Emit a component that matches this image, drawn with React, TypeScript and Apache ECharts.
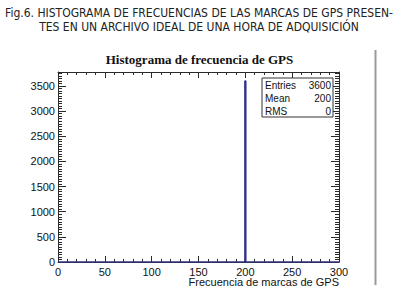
import React, { useEffect, useRef } from "react";
import * as echarts from "echarts";

const captionLines = [
  "Fig.6. HISTOGRAMA DE FRECUENCIAS DE LAS MARCAS DE GPS PRESEN-",
  "TES EN UN ARCHIVO IDEAL DE UNA HORA DE ADQUISICIÓN",
];
const chartTitle = "Histograma de frecuencia de GPS";
const xAxisTitle = "Frecuencia de marcas de GPS";
const gpsBins = [200];
const gpsCounts = [3600];
const binWidth = 1;
const xRange = [0, 300];
const yMax = 3780;

export default function App() {
  const ref = useRef<HTMLDivElement>(null);
  useEffect(() => {
    if (!ref.current) return;
    const chart = echarts.init(ref.current, undefined, { renderer: "svg" });

    // histogram outline from bins
    const outline: number[][] = [[xRange[0], 0]];
    gpsBins.forEach((b, i) => {
      outline.push([b - binWidth / 2, 0]);
      outline.push([b - binWidth / 2, gpsCounts[i]]);
      outline.push([b + binWidth / 2, gpsCounts[i]]);
      outline.push([b + binWidth / 2, 0]);
    });
    outline.push([xRange[1], 0]);

    const entries = gpsCounts.reduce((a, c) => a + c, 0);
    const mean = gpsBins.reduce((a, b, i) => a + b * gpsCounts[i], 0) / entries;
    const rms = Math.sqrt(
      gpsBins.reduce((a, b, i) => a + (b - mean) * (b - mean) * gpsCounts[i], 0) / entries
    );

    const frame = "#2a2a2a";
    const labelFont = { fontFamily: "Liberation Sans, Arial, sans-serif", fontSize: 11, color: "#111" };
    const xBase = { type: "value", min: xRange[0], max: xRange[1], splitLine: { show: false } };
    const yBase = { type: "value", min: 0, max: yMax, splitLine: { show: false } };
    const line = (show: boolean) => ({ show, onZero: false, lineStyle: { color: frame, width: 1 } });
    const tick = (length: number) => ({ show: true, inside: true, length, lineStyle: { color: frame, width: 1 } });

    chart.setOption({
      animation: false,
      title: {
        text: chartTitle,
        left: "center",
        top: 48,
        textStyle: { fontFamily: "Liberation Serif, serif", fontWeight: "bold", fontSize: 13, color: "#111" },
      },
      grid: { left: 58, right: 60, top: 72, bottom: 30 },
      xAxis: [
        { ...xBase, position: "bottom", interval: 50, axisLine: line(true), axisTick: tick(6), axisLabel: { ...labelFont, margin: 4 } },
        { ...xBase, position: "bottom", interval: 10, axisLine: line(false), axisTick: tick(3), axisLabel: { show: false } },
        { ...xBase, position: "top", interval: 50, axisLine: line(true), axisTick: tick(6), axisLabel: { show: false } },
        { ...xBase, position: "top", interval: 10, axisLine: line(false), axisTick: tick(3), axisLabel: { show: false } },
      ],
      yAxis: [
        {
          ...yBase, position: "left", interval: 500, axisLine: line(true), axisTick: tick(8),
          axisLabel: { ...labelFont, margin: 3, formatter: (v: number) => (v % 500 === 0 ? String(v) : "") },
        },
        { ...yBase, position: "left", interval: 50, axisLine: line(false), axisTick: tick(4), axisLabel: { show: false } },
        { ...yBase, position: "right", interval: 500, axisLine: line(true), axisTick: tick(8), axisLabel: { show: false } },
        { ...yBase, position: "right", interval: 50, axisLine: line(false), axisTick: tick(4), axisLabel: { show: false } },
      ],
      series: [
        {
          type: "line",
          xAxisIndex: 0,
          yAxisIndex: 0,
          data: outline,
          symbol: "none",
          lineStyle: { color: "#33338a", width: 1.5 },
          z: 5,
        },
      ],
      graphic: [
        {
          type: "text",
          x: 199, y: 13,
          style: {
            text: captionLines[0],
            align: "center", verticalAlign: "middle",
            font: "12px 'Liberation Sans Narrow', 'DejaVu Sans Condensed', sans-serif",
            fill: "#222",
          },
        },
        {
          type: "text",
          x: 199, y: 27,
          style: {
            text: captionLines[1],
            align: "center", verticalAlign: "middle",
            font: "12px 'Liberation Sans Narrow', 'DejaVu Sans Condensed', sans-serif",
            fill: "#222",
          },
        },
        {
          type: "line",
          shape: { x1: 375.5, y1: 50, x2: 375.5, y2: 285 },
          style: { stroke: "#9a9a9a", lineWidth: 2 },
        },
        {
          type: "text",
          x: 339, y: 282,
          style: {
            text: xAxisTitle,
            align: "right", verticalAlign: "middle",
            font: "11px 'Liberation Sans', Arial, sans-serif",
            fill: "#111",
          },
        },
        {
          type: "rect",
          shape: { x: 262, y: 78, width: 71, height: 39 },
          style: { fill: "#fff", stroke: "#333", lineWidth: 1 },
          z: 10,
        },
        ...[
          ["Entries", String(entries)],
          ["Mean", String(Math.round(mean))],
          ["RMS", String(Math.round(rms))],
        ].flatMap(([k, v], i) => [
          {
            type: "text", x: 265, y: 85 + i * 13.3, z: 11,
            style: { text: k, align: "left", verticalAlign: "middle", font: "10px 'Liberation Sans', Arial, sans-serif", fill: "#111" },
          },
          {
            type: "text", x: 331, y: 85 + i * 13.3, z: 11,
            style: { text: v, align: "right", verticalAlign: "middle", font: "10px 'Liberation Sans', Arial, sans-serif", fill: "#111" },
          },
        ]),
      ],
    });
    return () => chart.dispose();
  }, []);
  return (
    <div
      ref={ref}
      style={{ position: "fixed", left: 0, top: 0, width: 399, height: 292, background: "#fff" }}
    />
  );
}
